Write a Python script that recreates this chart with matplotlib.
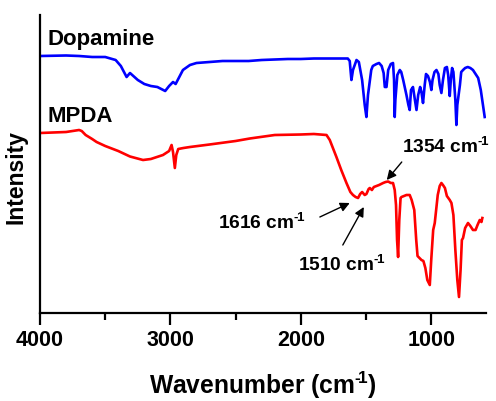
import numpy as np
import matplotlib
matplotlib.use("Agg")
import matplotlib.pyplot as plt
from matplotlib.ticker import MultipleLocator

plt.rcParams['font.family'] = ['Liberation Sans', 'DejaVu Sans']
plt.rcParams['font.weight'] = 'bold'
plt.rcParams['mathtext.fontset'] = 'custom'
plt.rcParams['mathtext.rm'] = 'Liberation Sans:bold'
plt.rcParams['mathtext.it'] = 'Liberation Sans:bold'
plt.rcParams['mathtext.bf'] = 'Liberation Sans:bold'
plt.rcParams['mathtext.default'] = 'rm'

# ---- data (intensity in arbitrary units, offset-stacked) ----
dopamine_wn = [4000, 3800, 3700, 3600, 3500, 3420, 3380, 3336, 3310, 3250, 3200, 3150, 3100,
               3040, 3010, 2980, 2960, 2904, 2850, 2800, 2700, 2600, 2500, 2400, 2300, 2200,
               2100, 2000, 1900, 1800, 1700, 1640, 1625, 1612, 1600, 1573, 1555, 1530, 1510,
               1497, 1485, 1460, 1448, 1420, 1400, 1380, 1365, 1356, 1343, 1330, 1310, 1293,
               1285, 1280, 1275, 1260, 1241, 1230, 1215, 1190, 1175, 1165, 1155, 1140, 1125,
               1113, 1100, 1085, 1075, 1063, 1050, 1040, 1025, 1010, 999, 990, 975, 960, 945,
               935, 922, 910, 895, 880, 870, 858, 850, 840, 830, 815, 807, 800, 790, 780, 770,
               756, 740, 720, 700, 680, 660, 640, 620, 600, 590]
dopamine_int = [257, 257.5, 257, 256, 256, 253, 247, 236, 240, 233, 229, 227, 226,
                222, 227, 231, 229, 243, 248, 250, 251, 252, 252, 252, 253, 253.5,
                254, 254, 254.5, 254.5, 254.5, 254.5, 252, 233, 243, 253, 251, 233, 208,
                196, 218, 243, 247, 249, 250, 247, 240, 226, 226, 243, 249, 250,
                233, 196, 213, 238, 243, 241, 233, 218, 208, 203, 223, 226, 213,
                203, 218, 226, 221, 210, 228, 239, 237, 231, 223, 233, 241, 243, 239,
                228, 220, 233, 245, 246, 238, 217, 233, 245, 241, 213, 188, 208, 218, 228, 241,
                243, 245, 246, 245, 243, 239, 235, 223, 205, 196]

mpda_wn = [4000, 3900, 3800, 3700, 3680, 3650, 3600, 3566, 3500, 3400, 3310, 3210, 3150, 3057,
           3010, 2991, 2980, 2966, 2955, 2940, 2900, 2850, 2700, 2500, 2391, 2200, 2000,
           1900, 1803, 1778, 1727, 1690, 1650, 1620, 1600, 1580, 1561, 1545, 1530, 1510,
           1497, 1480, 1471, 1455, 1440, 1420, 1400, 1369, 1350, 1330, 1310, 1293, 1280,
           1270, 1262, 1254, 1245, 1235, 1228, 1190, 1165, 1150, 1130, 1115, 1105, 1090,
           1075, 1060, 1045, 1030, 1011, 1000, 985, 973, 950, 935, 922, 910, 895, 880, 858,
           845, 830, 815, 800, 787, 775, 765, 756, 740, 718, 700, 680, 660, 645, 628, 615, 608]
mpda_int = [180, 180.5, 181, 183, 182, 178, 174, 171, 167, 162, 156.5, 153, 154, 158,
            162, 168, 161, 145, 158, 164, 165, 166, 168.5, 172, 174.5, 178, 178.5,
            179, 178, 173, 156, 143, 130, 121, 118, 116, 115, 119, 121, 118,
            119, 124, 125, 123, 126, 127, 128, 130, 131, 131.5, 130, 130, 123,
            108, 73, 56, 93, 115, 116, 118, 118, 113, 103, 73, 57, 55,
            53, 52, 45, 33, 28, 53, 83, 90, 118, 127, 130, 128, 125, 117, 113,
            110, 98, 63, 33, 16, 43, 73, 75, 85, 90, 87, 83, 83, 88, 93, 91, 95]

xticks = [4000, 3000, 2000, 1000]
SUP = '$^{\u2010\\!1}$'

fig = plt.figure(figsize=(4.96, 4.01), dpi=100)
ax = fig.add_axes([40/496, 88/401, 446/496, 298/401])

ax.plot(dopamine_wn, dopamine_int, color='#0000ff', lw=1.9)
ax.plot(mpda_wn, mpda_int, color='#ff0000', lw=1.9)

ax.set_xlim(4000, 580)
ax.set_ylim(0, 298)
ax.set_xticks(xticks)
ax.xaxis.set_minor_locator(MultipleLocator(500))
ax.set_yticks([])

for s in ['top', 'right']:
    ax.spines[s].set_visible(False)
for s in ['left', 'bottom']:
    ax.spines[s].set_linewidth(1.6)

ax.tick_params(axis='x', which='major', length=8.5, width=1.6, labelsize=15.5, pad=4, direction='out')
ax.tick_params(axis='x', which='minor', length=5, width=1.6, direction='out')
for lbl in ax.get_xticklabels():
    lbl.set_fontweight('bold')

ax.set_xlabel('Wavenumber (cm' + SUP + ')', fontsize=17.7, fontweight='bold', labelpad=13)
ax.set_ylabel('Intensity', fontsize=16.5, fontweight='bold')
ax.yaxis.set_label_coords(-0.027, 0.456)

ax.text(3946, 273, 'Dopamine', fontsize=16, fontweight='bold', ha='left', va='center')
ax.text(3946, 196, 'MPDA', fontsize=16, fontweight='bold', ha='left', va='center')

ax.text(2299, 90, '1616 cm' + SUP, fontsize=13.8, fontweight='bold', ha='center', va='center')
ax.text(1686, 48, '1510 cm' + SUP, fontsize=13.8, fontweight='bold', ha='center', va='center')
ax.text(889, 166, '1354 cm' + SUP, fontsize=13.8, fontweight='bold', ha='center', va='center')

ap = dict(arrowstyle='-|>', color='black', lw=1.0, mutation_scale=14, shrinkA=0, shrinkB=0)
ax.annotate('', xy=(1625, 110), xytext=(1854, 96), arrowprops=ap)
ax.annotate('', xy=(1517, 106), xytext=(1678, 68), arrowprops=ap)
ax.annotate('', xy=(1341, 133), xytext=(1226, 151), arrowprops=ap)

fig.savefig('out.png', dpi=100)
